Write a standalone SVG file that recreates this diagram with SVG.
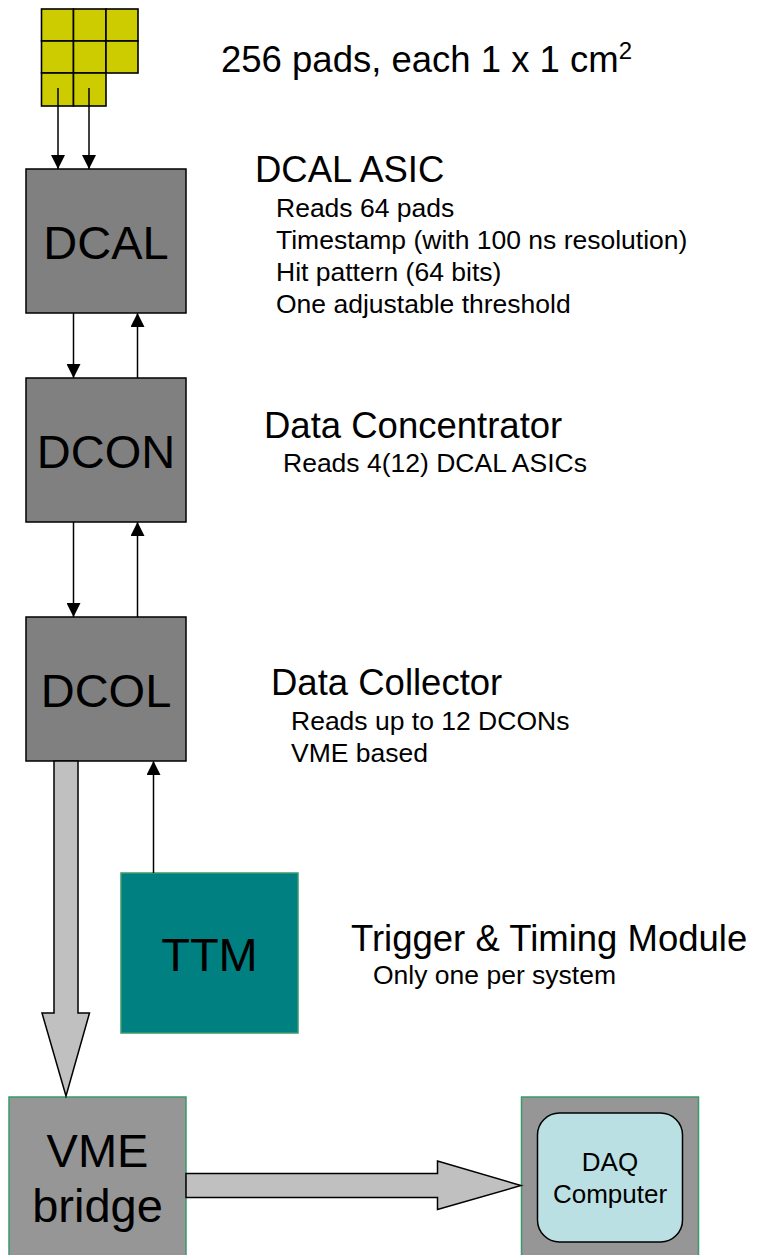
<svg xmlns="http://www.w3.org/2000/svg" width="760" height="1255" viewBox="0 0 760 1255">
<defs>
<style>
text{font-family:"Liberation Sans",Arial,sans-serif;fill:#000}
.big{font-size:47px;text-anchor:middle}
.title{font-size:36.5px}
.sub{font-size:26.5px}
.pad{fill:#CCCC00;stroke:#000;stroke-width:1.6}
.blk{fill:#808080;stroke:#000;stroke-width:1.5}
.grn{stroke:#3A9A6A;stroke-width:1.5}
.ln{stroke:#000;stroke-width:1.5;fill:none}
.fat{fill:#C0C0C0;stroke:#000;stroke-width:1.5;stroke-linejoin:miter}
</style>
<marker id="ah" viewBox="0 0 14 14" refX="14" refY="7" markerWidth="14" markerHeight="14" markerUnits="userSpaceOnUse" orient="auto">
<path d="M0,0 L14,7 L0,14 Z" fill="#000"/>
</marker>
</defs>

<g id="pads">
<rect class="pad" x="41.5" y="9" width="32" height="32"/>
<rect class="pad" x="73.5" y="9" width="32.5" height="32"/>
<rect class="pad" x="106" y="9" width="32" height="32"/>
<rect class="pad" x="41.5" y="41" width="32" height="32"/>
<rect class="pad" x="73.5" y="41" width="32.5" height="32"/>
<rect class="pad" x="106" y="41" width="32" height="32"/>
<rect class="pad" x="41.5" y="73" width="32" height="33"/>
<rect class="pad" x="73.5" y="73" width="32.5" height="33"/>
</g>

<g id="pads-label">
<text class="title" x="221" y="72">256 pads, each 1 x 1 cm<tspan font-size="24" dy="-13">2</tspan></text>
</g>

<g id="dcal">
<rect class="blk" x="26" y="169" width="160" height="144"/>
<text class="big" x="106" y="259">DCAL</text>
</g>
<g id="dcal-label">
<text class="title" x="255" y="182">DCAL ASIC</text>
<text class="sub" x="276" y="217">Reads 64 pads</text>
<text class="sub" x="276" y="249">Timestamp (with 100 ns resolution)</text>
<text class="sub" x="276" y="281">Hit pattern (64 bits)</text>
<text class="sub" x="276" y="313">One adjustable threshold</text>
</g>

<g id="dcon">
<rect class="blk" x="26" y="378" width="160" height="144"/>
<text class="big" x="106" y="468">DCON</text>
</g>
<g id="dcon-label">
<text class="title" x="264" y="438">Data Concentrator</text>
<text class="sub" x="283" y="472">Reads 4(12) DCAL ASICs</text>
</g>

<g id="dcol">
<rect class="blk" x="26" y="617" width="160" height="144"/>
<text class="big" x="106" y="707">DCOL</text>
</g>
<g id="dcol-label">
<text class="title" x="271" y="695">Data Collector</text>
<text class="sub" x="291" y="730">Reads up to 12 DCONs</text>
<text class="sub" x="291" y="762">VME based</text>
</g>

<g id="ttm">
<rect class="grn" fill="#008080" x="121" y="873" width="177" height="160"/>
<text class="big" x="209.5" y="971">TTM</text>
</g>
<g id="ttm-label">
<text class="title" x="351" y="951">Trigger &amp; Timing Module</text>
<text class="sub" x="373" y="984">Only one per system</text>
</g>

<g id="vme">
<rect class="grn" fill="#969696" x="9" y="1097" width="177" height="170"/>
<text class="big" x="97.5" y="1167">VME</text>
<text class="big" x="97.5" y="1222">bridge</text>
</g>

<g id="daq">
<rect class="grn" fill="#969696" x="521.5" y="1097" width="177" height="170"/>
<rect x="537.5" y="1113" width="145" height="129" rx="22" ry="22" fill="#BBE0E3" stroke="#000" stroke-width="1.5"/>
<text x="610" y="1171" font-size="26" text-anchor="middle">DAQ</text>
<text x="610" y="1203" font-size="26" text-anchor="middle">Computer</text>
</g>

<g id="connectors">
<line class="ln" x1="58" y1="88" x2="58" y2="169" marker-end="url(#ah)"/>
<line class="ln" x1="89" y1="88" x2="89" y2="169" marker-end="url(#ah)"/>
<line class="ln" x1="73.5" y1="313" x2="73.5" y2="378" marker-end="url(#ah)"/>
<line class="ln" x1="137.5" y1="378" x2="137.5" y2="313" marker-end="url(#ah)"/>
<line class="ln" x1="73.5" y1="522" x2="73.5" y2="617" marker-end="url(#ah)"/>
<line class="ln" x1="137.5" y1="617" x2="137.5" y2="522" marker-end="url(#ah)"/>
<line class="ln" x1="153.5" y1="873" x2="153.5" y2="761" marker-end="url(#ah)"/>
<path class="fat" d="M54,761 L78,761 L78,1013 L89.5,1013 L66,1096 L42,1013 L54,1013 Z"/>
<path class="fat" d="M186,1173.5 L437.5,1173.5 L437.5,1161 L521,1185.5 L437.5,1209.5 L437.5,1197.5 L186,1197.5 Z"/>
</g>
</svg>
